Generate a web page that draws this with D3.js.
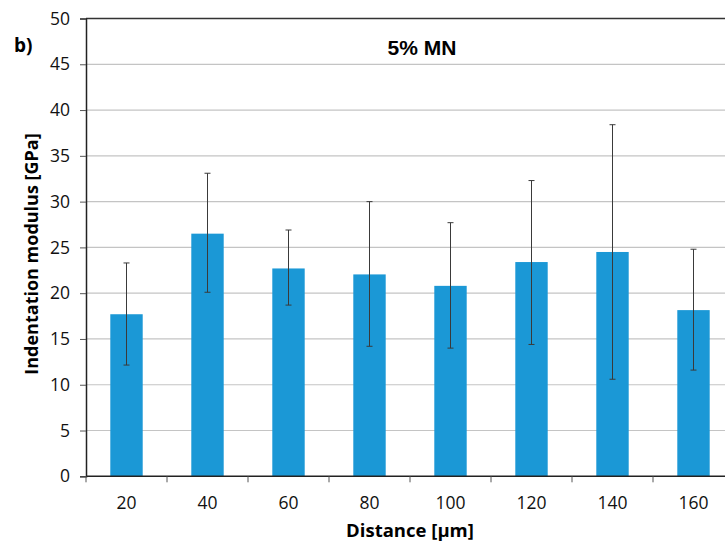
<!DOCTYPE html>
<html>
<head>
<meta charset="utf-8">
<script src="https://cdn.jsdelivr.net/npm/d3@7"></script>
<style>
  body { margin: 0; background: #fff; }
  svg { display: block; }
</style>
</head>
<body>
<svg id="chart"></svg>
<script>
// data
var distances = ["20", "40", "60", "80", "100", "120", "140", "160"];
var modulus = [17.7, 26.5, 22.7, 22.05, 20.8, 23.4, 24.5, 18.15];
var errHigh = [23.3, 33.1, 26.9, 30.0, 27.7, 32.3, 38.4, 24.8];
var errLow = [12.15, 20.1, 18.7, 14.2, 14.0, 14.4, 10.6, 11.6];
var yTicks = [0, 5, 10, 15, 20, 25, 30, 35, 40, 45, 50];

var width = 725, height = 543;
var plotLeft = 86, plotTop = 18.5, plotBottom = 476.3;

var svg = d3.select("#chart").attr("width", width).attr("height", height);

var x = d3.scaleBand()
  .domain(distances)
  .range([plotLeft, plotLeft + 81 * distances.length])
  .paddingInner(0.6)
  .paddingOuter(0.3);

var y = d3.scaleLinear().domain([0, 50]).range([plotBottom, plotTop]);

// grid lines
svg.append("g")
  .selectAll("line")
  .data(yTicks.filter(function(d) { return d > 0; }))
  .join("line")
  .attr("x1", plotLeft)
  .attr("x2", width)
  .attr("y1", function(d) { return y(d); })
  .attr("y2", function(d) { return y(d); })
  .attr("stroke", function(d) { return d == 50 ? "#333" : "#c4c4c4"; })
  .attr("stroke-width", function(d) { return d == 50 ? 1.5 : 1.2; });

// bars
svg.append("g")
  .selectAll("rect")
  .data(distances)
  .join("rect")
  .attr("x", function(d) { return x(d); })
  .attr("y", function(d, i) { return y(modulus[i]); })
  .attr("width", x.bandwidth())
  .attr("height", function(d, i) { return y(0) - y(modulus[i]); })
  .attr("fill", "#1b98d6");

// error bars
var err = svg.append("g").attr("stroke", "#3a3a3a").attr("stroke-width", 1);
distances.forEach(function(d, i) {
  var cx = x(d) + x.bandwidth() / 2;
  err.append("line")
    .attr("x1", cx).attr("x2", cx)
    .attr("y1", y(errLow[i])).attr("y2", y(errHigh[i]));
  err.append("line")
    .attr("x1", cx - 3).attr("x2", cx + 3)
    .attr("y1", y(errHigh[i])).attr("y2", y(errHigh[i]));
  err.append("line")
    .attr("x1", cx - 3).attr("x2", cx + 3)
    .attr("y1", y(errLow[i])).attr("y2", y(errLow[i]));
});

// y axis
var yAxis = svg.append("g")
  .attr("transform", "translate(" + plotLeft + ",0)")
  .call(d3.axisLeft(y).tickValues(yTicks).tickSize(6).tickPadding(10));
yAxis.select(".domain").attr("stroke", "#222").attr("stroke-width", 1.5);
yAxis.selectAll(".tick line").attr("stroke", "#555");
yAxis.selectAll(".tick text")
  .style("font-family", "'Open Sans', sans-serif")
  .style("font-size", "17.5px")
  .attr("fill", "#111");

// x axis, labels at centres
var xAxis = svg.append("g")
  .attr("transform", "translate(0," + plotBottom + ")")
  .call(d3.axisBottom(x).tickSize(0).tickPadding(20));
xAxis.select(".domain").remove();
xAxis.selectAll(".tick text")
  .style("font-family", "'Open Sans', sans-serif")
  .style("font-size", "17.5px")
  .attr("fill", "#111");
svg.append("line")
  .attr("x1", plotLeft).attr("x2", width)
  .attr("y1", plotBottom).attr("y2", plotBottom)
  .attr("stroke", "#222").attr("stroke-width", 1.5);

// x ticks at category boundaries
var bounds = distances.map(function(d) { return x(d) - x.step() * 0.3; });
bounds.push(plotLeft + x.step() * distances.length);
svg.append("g")
  .selectAll("line")
  .data(bounds)
  .join("line")
  .attr("x1", function(d) { return d; })
  .attr("x2", function(d) { return d; })
  .attr("y1", plotBottom)
  .attr("y2", plotBottom + 6)
  .attr("stroke", "#555");

// titles
svg.append("text")
  .attr("x", 422).attr("y", 55)
  .attr("text-anchor", "middle")
  .style("font-family", "'Liberation Sans', Arial, sans-serif")
  .style("font-weight", "bold")
  .style("font-size", "21px")
  .text("5% MN");

svg.append("text")
  .attr("x", 14).attr("y", 52)
  .style("font-family", "'Open Sans', sans-serif")
  .style("font-weight", "bold")
  .style("font-size", "19px")
  .text("b)");

svg.append("text")
  .attr("x", 410).attr("y", 537)
  .attr("text-anchor", "middle")
  .style("font-family", "'Open Sans', sans-serif")
  .style("font-weight", "bold")
  .style("font-size", "18.5px")
  .text("Distance [µm]");

svg.append("text")
  .attr("transform", "translate(38,254) rotate(-90)")
  .attr("text-anchor", "middle")
  .style("font-family", "'Open Sans', sans-serif")
  .style("font-weight", "bold")
  .style("font-size", "18px")
  .text("Indentation modulus [GPa]");
</script>
</body>
</html>
